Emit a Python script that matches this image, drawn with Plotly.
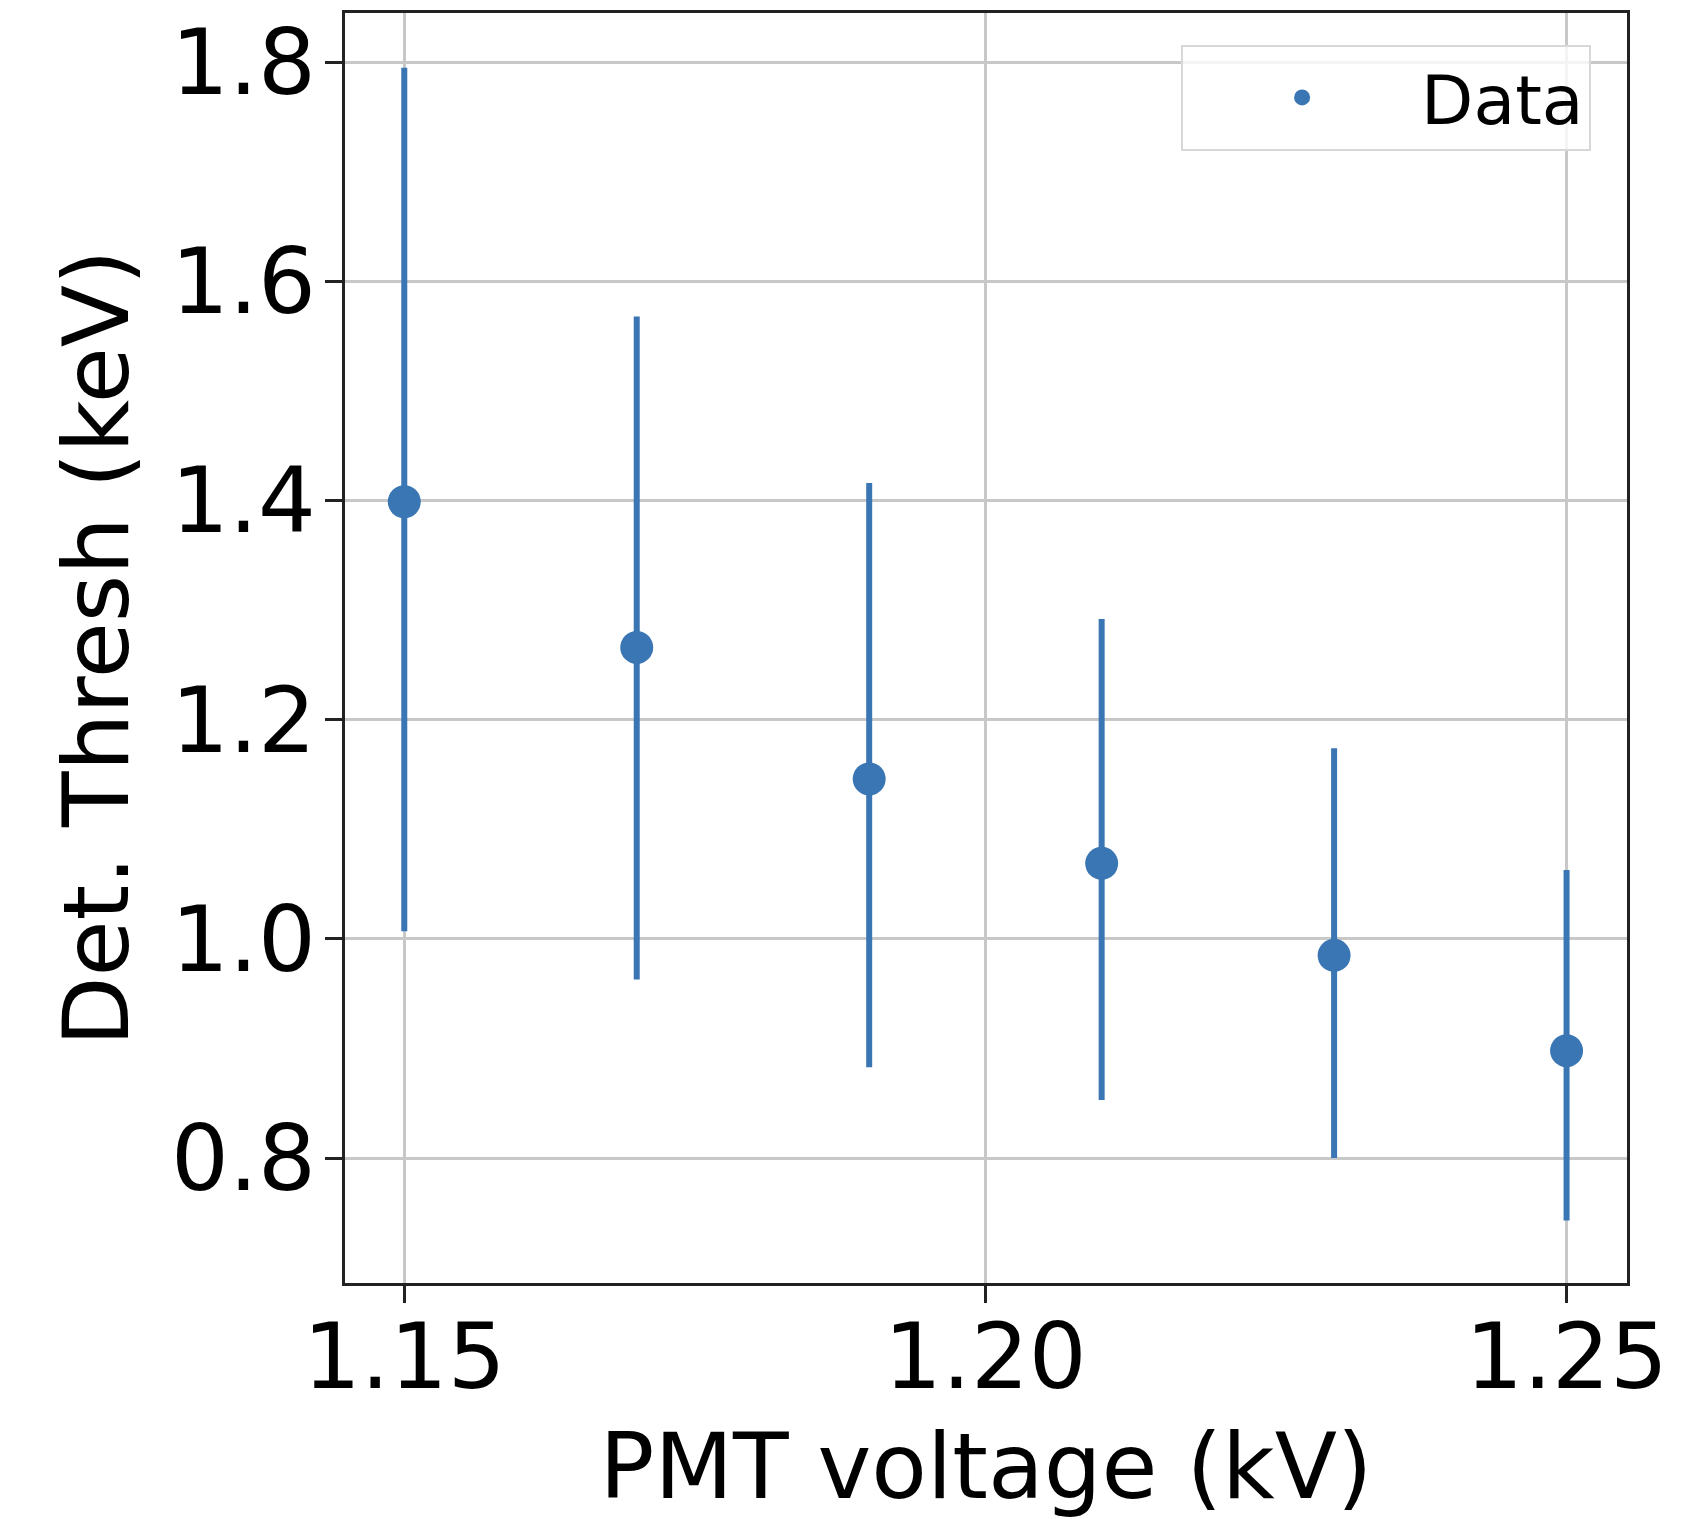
import plotly.graph_objects as go

voltage = [1.15, 1.17, 1.19, 1.21, 1.23, 1.25]
thresh = [1.399, 1.266, 1.146, 1.069, 0.985, 0.898]
err_up = [0.396, 0.302, 0.270, 0.223, 0.189, 0.165]
err_down = [0.392, 0.303, 0.263, 0.216, 0.185, 0.155]

x_ticks = [1.15, 1.20, 1.25]
y_ticks = [0.8, 1.0, 1.2, 1.4, 1.6, 1.8]

color = "#3a76b3"
font = "DejaVu Sans"
fs = 91

fig = go.Figure()
fig.add_trace(go.Scatter(
    x=voltage, y=thresh, mode="markers", name="Data",
    marker=dict(size=33, color=color),
    error_y=dict(type="data", symmetric=False, array=err_up, arrayminus=err_down,
                 color=color, thickness=6, width=0),
))

axis_common = dict(
    showline=True, linecolor="#222", linewidth=3, mirror=True,
    ticks="outside", ticklen=17, tickwidth=3, tickcolor="#222",
    showgrid=True, gridcolor="#c8c8c8", gridwidth=3,
    zeroline=False, automargin=False,
    tickfont=dict(family=font, size=fs, color="black"),
)

fig.update_xaxes(
    range=[1.1449, 1.2552], tickvals=x_ticks, tickformat=".2f",
    ticklabelstandoff=-24,
    title=dict(text="PMT voltage (kV)", font=dict(family=font, size=fs, color="black"), standoff=33),
    **axis_common,
)
fig.update_yaxes(
    range=[0.686, 1.845], tickvals=y_ticks, tickformat=".1f",
    ticklabelstandoff=-9,
    title=dict(text="Det. Thresh (keV)", font=dict(family=font, size=fs, color="black"), standoff=13),
    **axis_common,
)

fig.update_layout(
    width=1702, height=1519,
    margin=dict(l=345, r=75, t=13, b=236),
    plot_bgcolor="white", paper_bgcolor="white",
    showlegend=True,
    legend=dict(
        x=0.972, y=0.975, xanchor="right", yanchor="top",
        bgcolor="rgba(255,255,255,0.8)", bordercolor="#d8d8d8", borderwidth=2,
        font=dict(family=font, size=68, color="black"),
        itemwidth=228,
    ),
)

fig.write_html("out.html")
